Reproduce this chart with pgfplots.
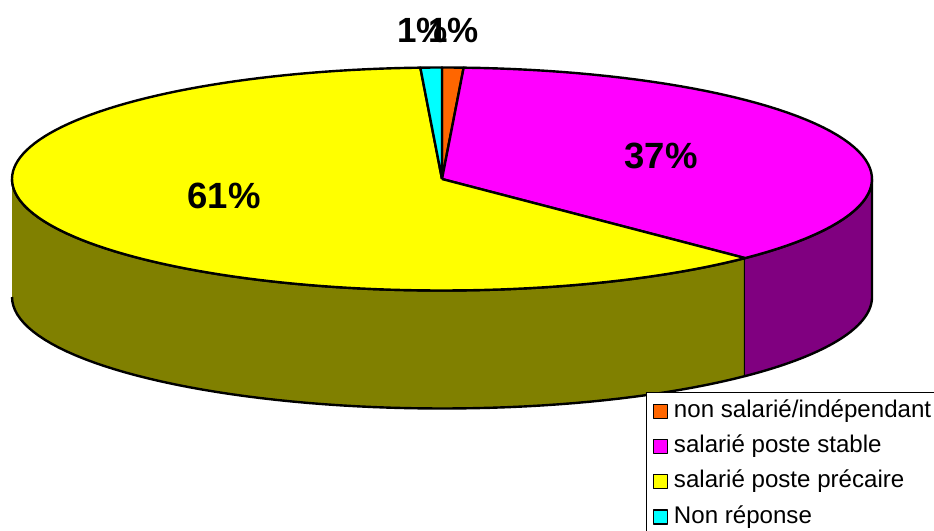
\documentclass[border=0pt]{standalone}
\usepackage{pgfplots}
\pgfplotsset{compat=1.18}
\usepackage{pgfplotstable}
\usepackage{fontspec}
\setmainfont{Liberation Sans}
\definecolor{cOrange}{HTML}{FF6600}
\definecolor{cMagenta}{HTML}{FF00FF}
\definecolor{cMagentaSide}{HTML}{800080}
\definecolor{cYellow}{HTML}{FFFF00}
\definecolor{cYellowSide}{HTML}{808000}
\definecolor{cCyan}{HTML}{00FFFF}
\pgfplotstableread{
label value
nonsalarie 0.8
stable 36.6
precaire 61.4
nonreponse 0.8
}\piedata
\pgfplotstablegetelem{0}{value}\of\piedata \let\vA\pgfplotsretval
\pgfplotstablegetelem{1}{value}\of\piedata \let\vB\pgfplotsretval
\pgfplotstablegetelem{2}{value}\of\piedata \let\vC\pgfplotsretval
\pgfplotstablegetelem{3}{value}\of\piedata \let\vD\pgfplotsretval
\pgfmathsetmacro\pieSum{\vA+\vB+\vC+\vD}
\pgfmathsetmacro\tA{90}
\pgfmathsetmacro\tB{90-(\vA/\pieSum)*360}
\pgfmathsetmacro\tC{90-((\vA+\vB)/\pieSum)*360}
\pgfmathsetmacro\tD{90-((\vA+\vB+\vC)/\pieSum)*360}
\pgfmathsetmacro\tE{-270}
\def\cx{442}\def\cy{179}\def\rx{430}\def\ry{111.5}\def\dep{118}
\pgfplotsset{slice/.style={draw=black, line width=2.4pt, line join=round}}
\begin{document}%
\begin{tikzpicture}
\begin{axis}[
  scale only axis, width=934pt, height=530pt,
  xmin=0, xmax=934, ymin=0, ymax=530, y dir=reverse,
  hide axis, clip=false,
  legend style={at={(axis cs:646,391.5)}, anchor=north west, draw=black, line width=1.3pt,
    font=\fontsize{24.1}{24}\selectfont, inner xsep=6pt, inner ysep=7pt,
    row sep=11.3pt, column sep=6pt,
    nodes={inner sep=0pt, text height=18pt, text depth=6pt}},
  legend cell align=left,
  legend image code/.code={\draw[#1, draw=black, line width=1.3pt] (0pt,-7pt) rectangle (14pt,7pt);},
]
% front sides
\addplot[slice, fill=cYellowSide, forget plot, domain=0:121, samples=122, variable=\t]
  ({\cx+\rx*cos(\t<60.5 ? -180+(\t/60)*(\tC+180) : \tC-((\t-61)/60)*(\tC+180))},
   {\cy-\ry*sin(\t<60.5 ? -180+(\t/60)*(\tC+180) : \tC-((\t-61)/60)*(\tC+180))+(\t<60.5 ? 0 : \dep)});
\addplot[slice, fill=cMagentaSide, forget plot, domain=0:121, samples=122, variable=\t]
  ({\cx+\rx*cos(\t<60.5 ? \tC+(\t/60)*(0-\tC) : 0-((\t-61)/60)*(0-\tC))},
   {\cy-\ry*sin(\t<60.5 ? \tC+(\t/60)*(0-\tC) : 0-((\t-61)/60)*(0-\tC))+(\t<60.5 ? 0 : \dep)});
% top faces
\addplot[slice, fill=cOrange, domain=0:62, samples=63, variable=\t]
  ({or(\t<0.5,\t>61.5) ? \cx : \cx+\rx*cos(\tB+((\t-1)/60)*(\tA-\tB))},
   {or(\t<0.5,\t>61.5) ? \cy : \cy-\ry*sin(\tB+((\t-1)/60)*(\tA-\tB))});
\addlegendentry{non salarié/indépendant\hspace*{14pt}}
\addplot[slice, fill=cMagenta, domain=0:62, samples=63, variable=\t]
  ({or(\t<0.5,\t>61.5) ? \cx : \cx+\rx*cos(\tC+((\t-1)/60)*(\tB-\tC))},
   {or(\t<0.5,\t>61.5) ? \cy : \cy-\ry*sin(\tC+((\t-1)/60)*(\tB-\tC))});
\addlegendentry{salarié poste stable}
\addplot[slice, fill=cYellow, domain=0:122, samples=123, variable=\t]
  ({or(\t<0.5,\t>121.5) ? \cx : \cx+\rx*cos(\tD+((\t-1)/120)*(\tC-\tD))},
   {or(\t<0.5,\t>121.5) ? \cy : \cy-\ry*sin(\tD+((\t-1)/120)*(\tC-\tD))});
\addlegendentry{salarié poste précaire}
\addplot[slice, fill=cCyan, domain=0:62, samples=63, variable=\t]
  ({or(\t<0.5,\t>61.5) ? \cx : \cx+\rx*cos(\tE+((\t-1)/60)*(\tD-\tE))},
   {or(\t<0.5,\t>61.5) ? \cy : \cy-\ry*sin(\tE+((\t-1)/60)*(\tD-\tE))});
\addlegendentry{Non réponse}
% labels
\node[font=\fontsize{35}{40}\selectfont\bfseries] at (axis cs:422.5,30) {1\%};
\node[font=\fontsize{35}{40}\selectfont\bfseries] at (axis cs:453.5,30) {1\%};
\node[font=\fontsize{36.5}{40}\selectfont\bfseries] at (axis cs:661,155.5) {37\%};
\node[font=\fontsize{36.5}{40}\selectfont\bfseries] at (axis cs:224,195.5) {61\%};
\end{axis}
\pgfresetboundingbox
\path[use as bounding box] (current axis.south west) rectangle (current axis.north east);
\end{tikzpicture}%
\end{document}
